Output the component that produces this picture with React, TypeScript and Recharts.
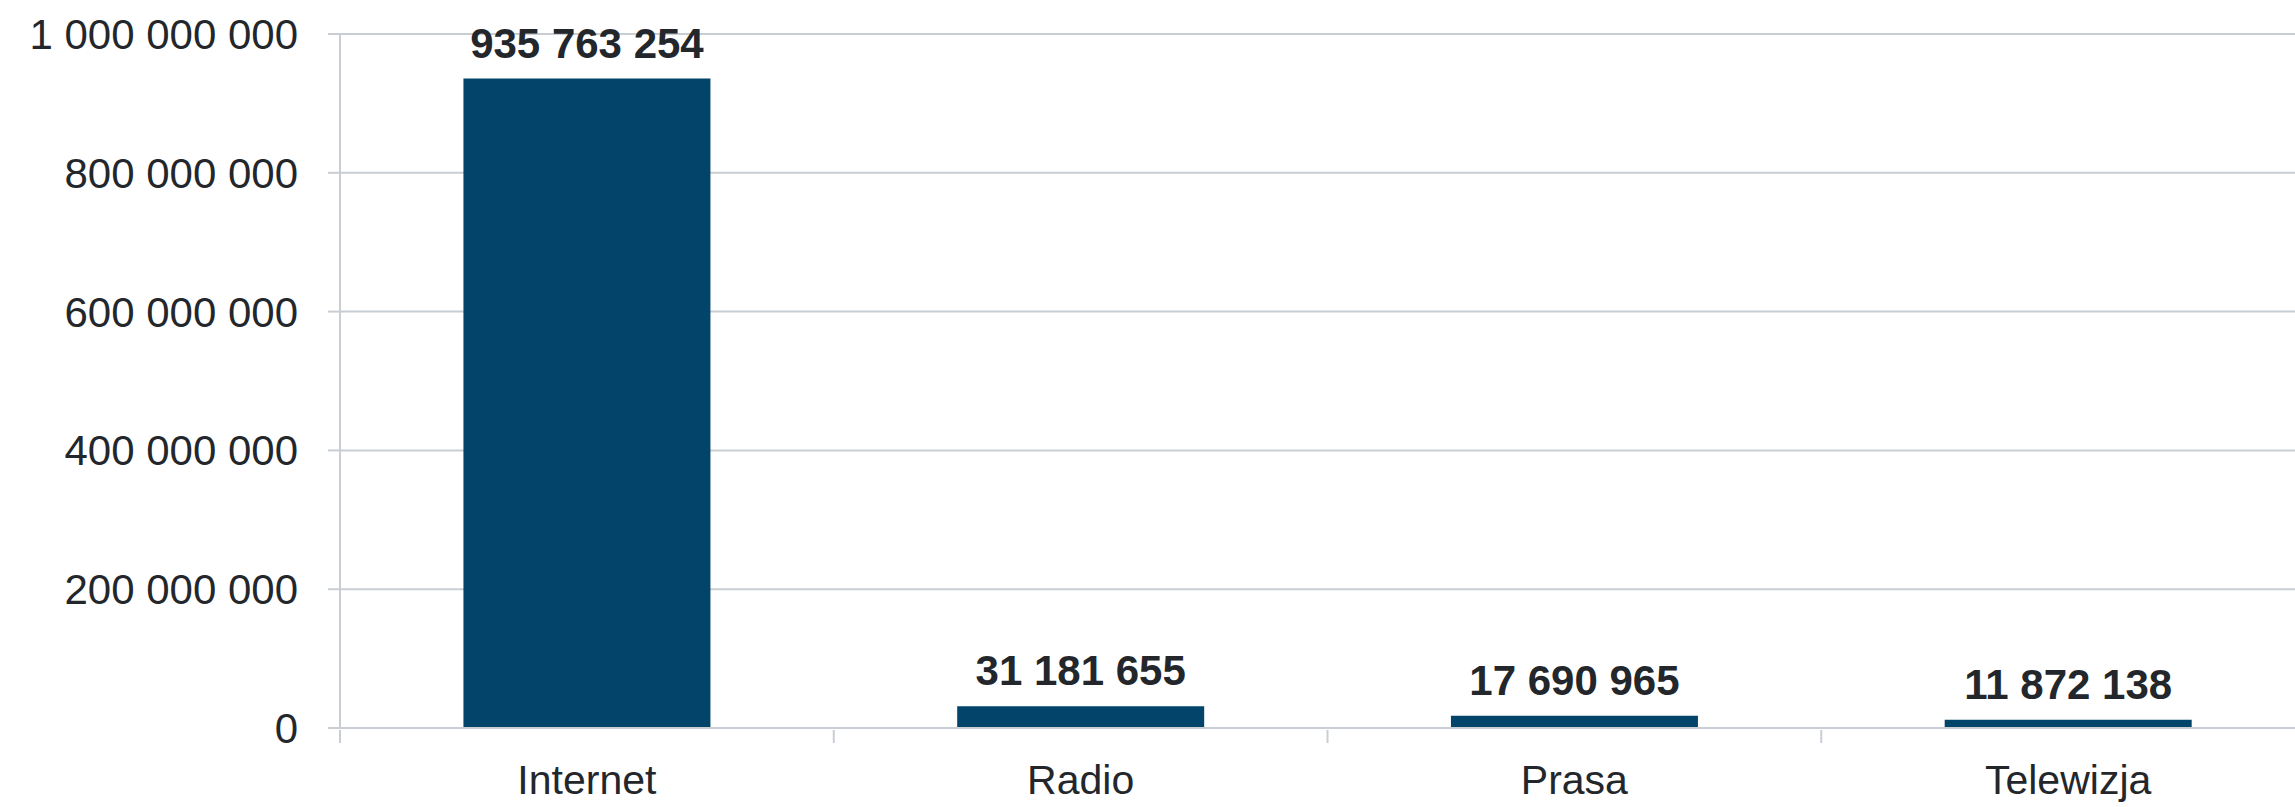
import { BarChart, Bar, XAxis, YAxis, CartesianGrid, LabelList } from 'recharts';

const CATEGORIES = ['Internet', 'Radio', 'Prasa', 'Telewizja'];
const VALUES = [935763254, 31181655, 17690965, 11872138];
const Y_TICKS = [0, 200000000, 400000000, 600000000, 800000000, 1000000000];

const BAR_COLOR = '#03456a';
const GRID_COLOR = '#c8ced4';
const TEXT_COLOR = '#23272b';
const FONT = '"Liberation Sans", Arial, sans-serif';

const data = CATEGORIES.map((name, i) => ({ name, value: VALUES[i] }));

// thousands separated by spaces: 935 763 254
const fmt = (v: number | string) => String(v).replace(/\B(?=(\d{3})+(?!\d))/g, ' ');

// category label plus a tick mark on the left edge of each band
function CategoryTick(props: any) {
  const { x, y, payload } = props;
  const half = payload?.offset ?? 0;
  return (
    <g>
      <line x1={x - half} x2={x - half} y1={y} y2={y + 13} stroke={GRID_COLOR} strokeWidth={2} />
      <text
        x={x}
        y={y + 35}
        dy="0.71em"
        textAnchor="middle"
        fill={TEXT_COLOR}
        fontSize={41}
        fontFamily={FONT}
      >
        {payload.value}
      </text>
    </g>
  );
}

export default function App() {
  return (
    <div
      style={{
        position: 'fixed',
        left: 0,
        top: 0,
        width: 2295,
        height: 807,
        overflow: 'hidden',
        background: '#fff',
      }}
    >
      <BarChart
        width={2320}
        height={807}
        data={data}
        margin={{ top: 34, right: 5, bottom: 0, left: 0 }}
        barCategoryGap="25%"
      >
        <CartesianGrid vertical={false} stroke={GRID_COLOR} strokeWidth={2} />
        <XAxis
          dataKey="name"
          height={79}
          tickLine={false}
          tickSize={0}
          axisLine={{ stroke: GRID_COLOR, strokeWidth: 2 }}
          tick={<CategoryTick />}
          interval={0}
        />
        <YAxis
          width={340}
          domain={[0, 1000000000]}
          ticks={Y_TICKS}
          tickFormatter={fmt}
          tickSize={12}
          tickMargin={30}
          axisLine={{ stroke: GRID_COLOR, strokeWidth: 2 }}
          tickLine={{ stroke: GRID_COLOR, strokeWidth: 2 }}
          tick={{ fill: TEXT_COLOR, fontSize: 42, fontFamily: FONT }}
        />
        <Bar dataKey="value" fill={BAR_COLOR} isAnimationActive={false}>
          <LabelList
            dataKey="value"
            position="top"
            offset={21}
            formatter={fmt}
            fill={TEXT_COLOR}
            fontSize={42}
            fontWeight="bold"
            fontFamily={FONT}
          />
        </Bar>
      </BarChart>
    </div>
  );
}
